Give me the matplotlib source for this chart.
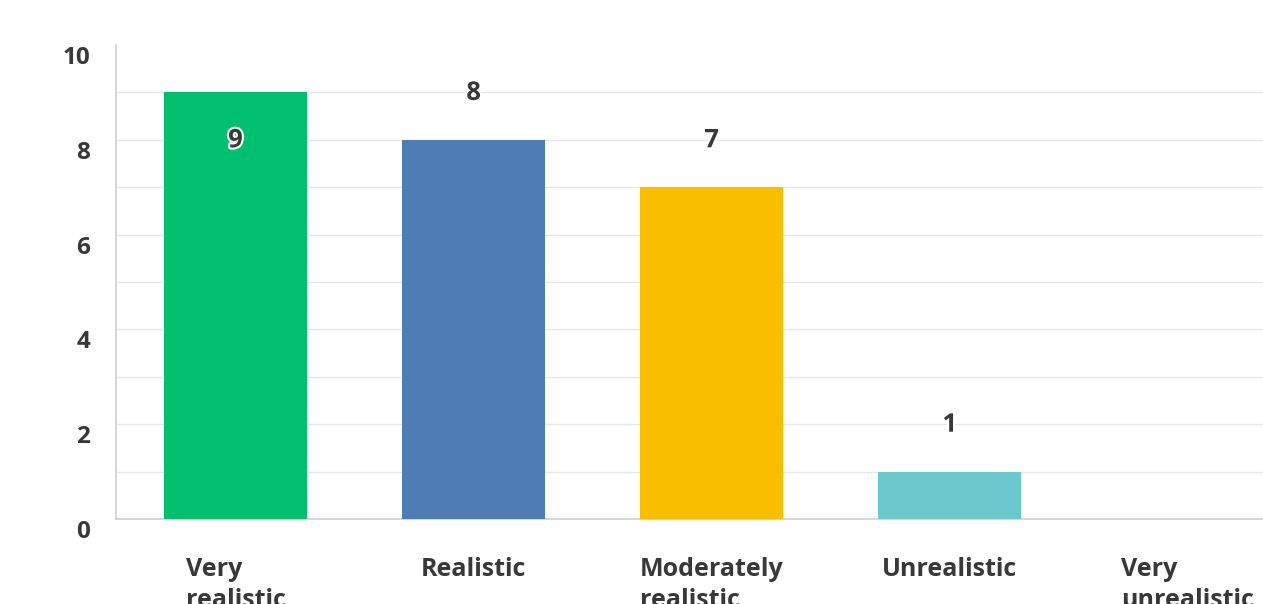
import matplotlib
matplotlib.use("Agg")
import matplotlib.pyplot as plt
import matplotlib.patheffects as pe
from matplotlib.transforms import offset_copy

categories = ["Very\nrealistic", "Realistic", "Moderately\nrealistic", "Unrealistic", "Very\nunrealistic"]
counts = [9, 8, 7, 1, 0]
colors = ["#00BF6F", "#507CB6", "#F9BE00", "#6BC8CD", "#FF8B4F"]
y_ticks = [0, 2, 4, 6, 8, 10]
grid_levels = [1, 2, 3, 4, 5, 6, 7, 8, 9]

plt.rcParams["font.family"] = ["Open Sans", "DejaVu Sans"]
text_color = "#383838"

fig = plt.figure(figsize=(12.63, 6.04), dpi=100)
ax = fig.add_axes([0.0922, 0.1407, 0.9426, 0.7848])

x = list(range(len(categories)))
ax.bar(x, counts, width=0.6, color=colors, zorder=3)

ax.set_xlim(-0.5, len(categories) - 0.5)
ax.set_ylim(0, 10)
ax.set_yticks(y_ticks)
ax.set_yticklabels([str(t) for t in y_ticks])
for g in grid_levels:
    ax.axhline(g, color="#e8e8e8", linewidth=1.0, zorder=0)
ax.tick_params(axis="both", which="both", length=0)
ax.tick_params(axis="y", pad=19, labelsize=17.5, labelcolor=text_color)

for lbl in ax.get_yticklabels():
    lbl.set_fontweight("bold")
    lbl.set_transform(offset_copy(lbl.get_transform(), fig=fig, x=0, y=-10, units="dots"))

ax.set_xticks(x)
ax.set_xticklabels(categories, fontsize=18, fontweight="bold", color=text_color,
                   multialignment="left", linespacing=1.35)
ax.tick_params(axis="x", pad=27)

for side in ("top", "right"):
    ax.spines[side].set_visible(False)
ax.spines["left"].set_color("#cfcfcf")
ax.spines["bottom"].set_color("#cfcfcf")
ax.spines["left"].set_linewidth(1.2)
ax.spines["bottom"].set_linewidth(1.2)

# Value labels sit one unit above the bar, or inside it when that would reach the top
for xi, v in zip(x, counts):
    if v == 0:
        continue
    ypos = v + 1 if v + 1 < 10 else v - 1
    ax.text(xi, ypos, str(v), ha="center", va="center", fontsize=18.5, fontweight="bold",
            color=text_color, zorder=5,
            path_effects=[pe.withStroke(linewidth=3, foreground="white")])

fig.savefig("out.png", dpi=100)
